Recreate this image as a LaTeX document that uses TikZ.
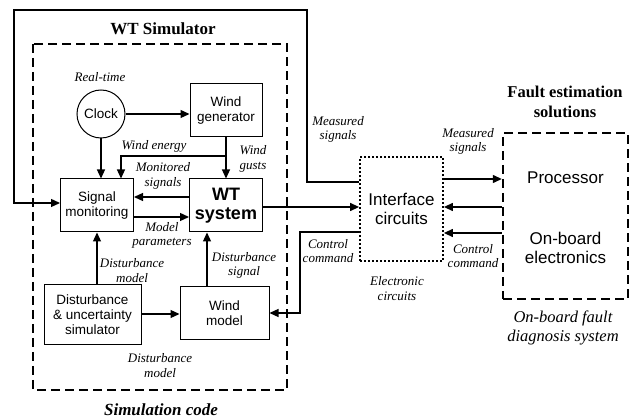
\documentclass[tikz,border=0pt]{standalone}
\usepackage{fontspec}
\setmainfont{Liberation Serif}
\newfontfamily\arial{Liberation Sans}
\usetikzlibrary{arrows.meta,calc}
\tikzset{
  blk/.style={draw, line width=1pt, align=center, inner sep=1pt,
    font=\arial\fontsize{13.5}{15}\selectfont},
  lbl/.style={align=center, inner sep=0pt,
    font=\itshape\fontsize{13}{14.5}\selectfont},
  ttl/.style={align=center, inner sep=0pt,
    font=\bfseries\fontsize{17}{20}\selectfont},
  conn/.style={line width=1.3pt, -{Triangle[length=9pt,width=8pt]}},
  bigdash/.style={draw, line width=2.4pt, dash pattern=on 9pt off 5pt},
}
\begin{document}
\begin{tikzpicture}[x=1pt,y=-1pt]
\useasboundingbox (0,0) rectangle (643,419);

% simulation environment frame
\draw[bigdash] (33,44) rectangle (287,390);
\node[ttl] (wtsim) at (163,29) {WT Simulator};
\node[ttl, font=\bfseries\itshape\fontsize{17}{20}\selectfont] (simcode) at (161,410) {Simulation code};

% blocks inside the simulator
\node[draw, circle, line width=1pt, minimum size=48pt, inner sep=0pt,
  font=\arial\fontsize{13.5}{15}\selectfont] (clock) at (101,114) {Clock};
\node[lbl] (rt) at (100,77) {Real-time};
\node[blk, minimum width=72pt, minimum height=53pt] (windgen) at (226,110.5) {Wind\\generator};
\node[blk, minimum width=73pt, minimum height=53pt] (sigmon) at (97,205.5) {Signal\\monitoring};
\node[blk, minimum width=73pt, minimum height=53pt,
  font=\arial\bfseries\fontsize{18}{19}\selectfont] (wtsys) at (226,205.5) {WT\\system};
\node[blk, minimum width=97pt, minimum height=60pt] (dus) at (92.5,315) {Disturbance\\\& uncertainty\\simulator};
\node[blk, minimum width=89pt, minimum height=53pt] (wmodel) at (224.5,313.5) {Wind\\model};

% interface and on-board system
\node[draw, line width=1.8pt, dash pattern=on 1.6pt off 2.4pt, minimum width=83pt,
  minimum height=104pt, align=center, font=\arial\fontsize{17}{19}\selectfont]
  (iface) at (401.5,209) {Interface\\circuits};
\node[bigdash, minimum width=125pt, minimum height=166pt] (fe) at (565.5,216) {};
\node[font=\arial\fontsize{17}{19}\selectfont] (proc) at (565.5,178) {Processor};
\node[align=center, font=\arial\fontsize{17}{19}\selectfont] (obe) at (565.5,248) {On-board\\electronics};
\node[ttl, font=\bfseries\fontsize{16.5}{19.5}\selectfont] (fes) at (565,102) {Fault estimation\\solutions};
\node[lbl, font=\itshape\fontsize{16.5}{19}\selectfont] (obfd) at (563,327.5) {On-board fault\\diagnosis system};

% connectors inside the simulator
\draw[conn] (clock.east) -- (clock.east -| windgen.west);
\draw[conn] (clock.south) -- (clock.south |- sigmon.north);
\draw[conn] (windgen.south) -- (wtsys.north);
\coordinate (we) at (windgen.south |- 0,156);
\draw[conn] (we) -- (121,156) -- (121,156 |- sigmon.north);
\draw[conn] (wtsys.west |- 0,197) -- (sigmon.east |- 0,197);
\draw[conn] (sigmon.east |- 0,217) -- (wtsys.west |- 0,217);
\draw[conn] (dus.north -| sigmon.south) -- (sigmon.south);
\draw[conn] (dus.east |- 0,314) -- (wmodel.west |- 0,314);
\draw[conn] (wmodel.north -| 207,0) -- (wtsys.south -| 207,0);

% signals between simulator, interface and on-board system
\draw[conn] (wtsys.east |- 0,207) -- (iface.west |- 0,207);
\draw[conn] (iface.west |- 0,182) -- (307,182) -- (307,10) -- (14,10) -- (14,203)
  -- (sigmon.west |- 0,203);
\draw[conn] (iface.west |- 0,232) -- (300,232) -- (300,313) -- (wmodel.east |- 0,313);
\draw[conn] (iface.east |- 0,179) -- (fe.west |- 0,179);
\draw[conn] (fe.west |- 0,207) -- (iface.east |- 0,207);
\draw[conn] (fe.west |- 0,233) -- (iface.east |- 0,233);

% signal labels
\node[lbl] (l1) at (154,146) {Wind energy};
\node[lbl] (l2) at (253,159) {Wind\\gusts};
\node[lbl] (l3) at (163,176) {Monitored\\signals};
\node[lbl] (l4) at (162,235.5) {Model\\parameters};
\node[lbl] (l5) at (132,270.5) {Disturbance\\model};
\node[lbl] (l6) at (244,265.5) {Disturbance\\signal};
\node[lbl] (l7) at (160,365.5) {Disturbance\\model};
\node[lbl] (l8) at (338,129.5) {Measured\\signals};
\node[lbl] (l9) at (328,251) {Control\\command};
\node[lbl] (l10) at (397,288.5) {Electronic\\circuits};
\node[lbl] (l11) at (468,141.5) {Measured\\signals};
\node[lbl] (l12) at (473,256) {Control\\command};
\end{tikzpicture}
\end{document}
